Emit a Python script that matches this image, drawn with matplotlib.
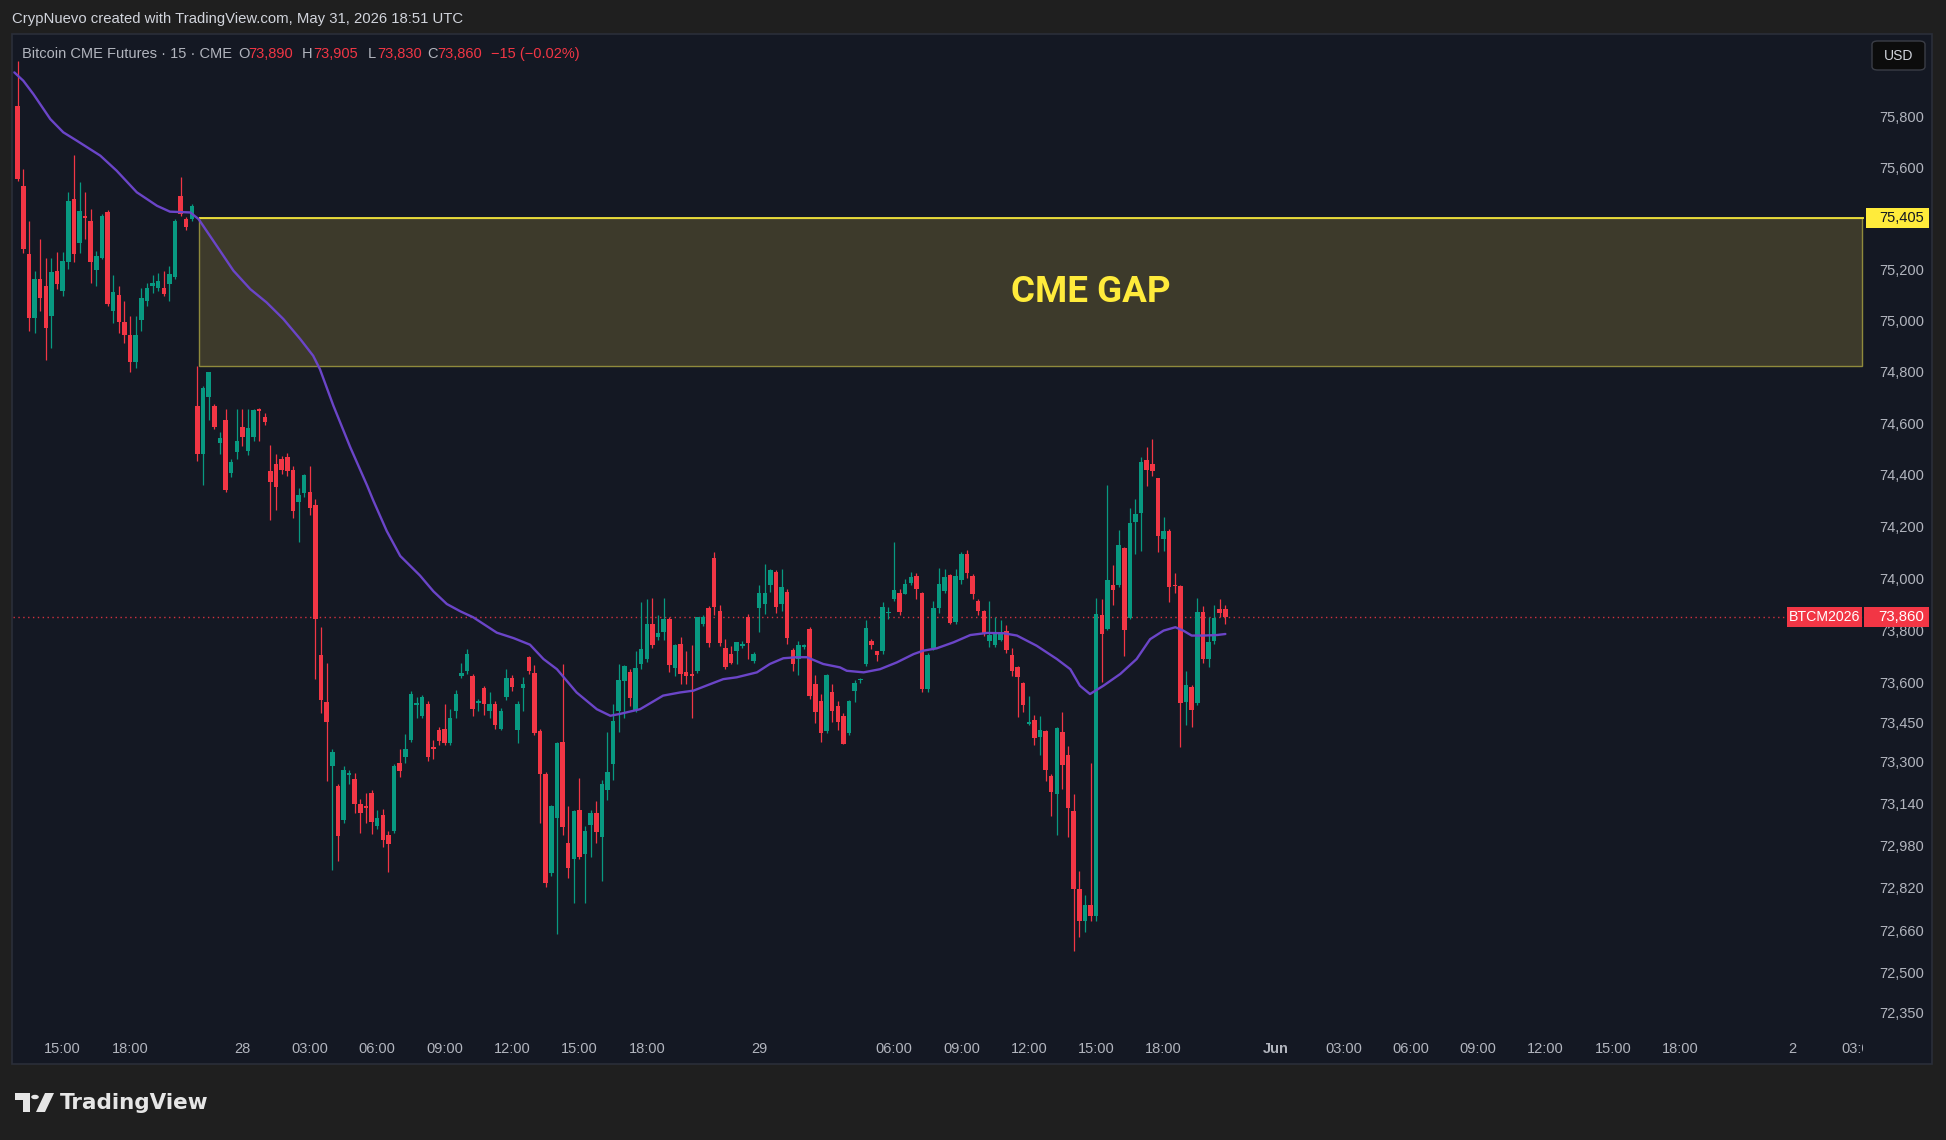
import numpy as np
import pandas as pd
import matplotlib
matplotlib.use("Agg")
import matplotlib.pyplot as plt
import matplotlib.transforms as mtransforms
from matplotlib.patches import Rectangle, Circle, Polygon, FancyBboxPatch

plt.rcParams['font.family'] = ['Liberation Sans', 'DejaVu Sans']

W, H = 1946, 1140

# ----------------------------------------------------------------------
# Bitcoin CME futures, 15 minute bars (27 May 13:00 UTC -> 29 May 20:45 UTC)
# ----------------------------------------------------------------------
opens = [
    75848, 75533, 75264, 75016, 75166, 75140, 75022, 75199, 75120, 75234,
    75481, 75310, 75415, 75396, 75203, 75251, 75431, 75042, 75103, 74999,
    74950, 74845, 75009, 75081, 75140, 75134, 75133, 75146, 75177, 75494,
    75402, 75402,
    74673, 74486, 74706, 74673, 74529, 74618, 74412, 74494, 74590, 74497,
    74553, 74660, 74630, 74420, 74448, 74468, 74475, 74426, 74300, 74335,
    74340, 74289, 73713, 73532, 73287, 73212, 73083, 73253, 73238, 73143,
    73137, 73185, 73062, 73102, 73026, 73040, 73300, 73321, 73386, 73520,
    73478, 73525, 73362, 73425, 73431, 73377, 73497, 73632, 73651, 73632,
    73527, 73587, 73498, 73525, 73431, 73550, 73625, 73424, 73587, 73705,
    73644, 73420, 73256, 72882, 73092, 73380, 72994, 72933, 73120, 72952,
    73064, 73110, 73018, 73197, 73296, 73498, 73613, 73648, 73502, 73678,
    73697, 73832, 73780, 73799, 73851, 73662, 73755, 73646, 73640, 73652,
    73831, 73892,
    74084, 73882, 73741, 73716, 73726, 73748, 73860, 73691, 73891, 73907,
    73983, 74033, 73910, 73956, 73733, 73697, 73743, 73812, 73601, 73538,
    73422, 73570, 73519, 73480, 73414, 73576, 73615, 73678, 73768, 73729,
    73727, 73872, 73926, 73952, 73947, 73990, 74016, 73951, 73582, 73741,
    73891, 73958, 74018, 73840, 74002, 74101, 74016, 73921, 73880, 73768,
    73751, 73770, 73806, 73712, 73666, 73605, 73450, 73463, 73400, 73420,
    73252, 73182, 73417, 73329, 73119, 72822, 72700, 72760, 72720, 73866,
    73812, 73980, 73983, 74124, 73853, 74225, 74258, 74464, 74448, 74392,
    74160, 74191, 73983, 73977, 73532, 73590, 73529, 73876, 73697, 73765,
    73890, 73890,
]
highs = [
    76024, 75598, 75396, 75199, 75323, 75251, 75251, 75274, 75274, 75507,
    75655, 75546, 75509, 75441, 75278, 75420, 75436, 75182, 75140, 75081,
    75022, 75022, 75134, 75153, 75185, 75192, 75199, 75219, 75402, 75566,
    75410, 75460,
    74830, 74750, 74806, 74680, 74572, 74660, 74468, 74660, 74660, 74660,
    74662, 74665, 74645, 74520, 74486, 74480, 74490, 74440, 74355, 74410,
    74440, 74314, 73819, 73682, 73355, 73219, 73290, 73275, 73260, 73164,
    73185, 73198, 73120, 73124, 73040, 73297, 73355, 73410, 73575, 73552,
    73560, 73535, 73389, 73438, 73525, 73506, 73578, 73682, 73737, 73640,
    73545, 73594, 73571, 73535, 73510, 73659, 73635, 73535, 73628, 73709,
    73675, 73430, 73265, 73140, 73380, 73677, 73136, 73120, 73243, 73060,
    73120, 73155, 73236, 73417, 73525, 73677, 73675, 73658, 73729, 73914,
    73929, 73933, 73866, 73933, 73860, 73755, 73781, 73729, 73750, 73860,
    73865, 73900,
    74110, 73905, 73775, 73748, 73764, 73765, 73870, 73725, 73981, 74063,
    74043, 74040, 74043, 73966, 73740, 73765, 73755, 73818, 73634, 73563,
    73640, 73601, 73535, 73490, 73540, 73615, 73625, 73845, 73772, 73729,
    73915, 73895, 74145, 73967, 74005, 74030, 74028, 73955, 73720, 73921,
    74046, 74043, 74025, 74043, 74110, 74114, 74022, 73927, 73885, 73921,
    73857, 73845, 73826, 73741, 73672, 73608, 73557, 73482, 73479, 73427,
    73258, 73437, 73496, 73364, 73180, 72890, 72800, 73300, 73933, 73929,
    74368, 74057, 74192, 74126, 74279, 74313, 74477, 74512, 74544, 74395,
    74245, 74198, 74026, 73980, 73650, 73599, 73933, 73899, 73857, 73904,
    73929, 73905,
]
lows = [
    75550, 75271, 74963, 74957, 75042, 74852, 74898, 75127, 75101, 75205,
    75232, 75271, 75323, 75153, 75140, 75245, 75062, 74996, 74957, 74918,
    74806, 74819, 74963, 75062, 75114, 75121, 75100, 75081, 75166, 75415,
    75360, 75395,
    74459, 74366, 74617, 74583, 74486, 74340, 74398, 74468, 74516, 74482,
    74537, 74537, 74600, 74230, 74269, 74410, 74400, 74238, 74148, 74320,
    74252, 73620, 73490, 73233, 72893, 72927, 73070, 73220, 73110, 73035,
    73070, 73029, 73050, 72981, 72887, 73033, 73246, 73300, 73380, 73471,
    73470, 73307, 73314, 73370, 73370, 73370, 73471, 73625, 73640, 73478,
    73500, 73483, 73471, 73431, 73425, 73540, 73575, 73377, 73498, 73640,
    73406, 73070, 72830, 72870, 72651, 73025, 72863, 72769, 72935, 72769,
    72942, 72994, 72853, 73159, 73236, 73418, 73471, 73519, 73495, 73658,
    73684, 73738, 73770, 73770, 73646, 73631, 73601, 73601, 73471, 73645,
    73825, 73745,
    73864, 73748, 73658, 73678, 73678, 73740, 73697, 73680, 73799, 73870,
    73955, 73872, 73880, 73755, 73652, 73637, 73735, 73545, 73452, 73379,
    73415, 73458, 73425, 73371, 73405, 73532, 73605, 73670, 73735, 73690,
    73715, 73850, 73921, 73864, 73945, 73980, 73926, 73571, 73571, 73730,
    73875, 73950, 73830, 73832, 73985, 74010, 73926, 73864, 73787, 73743,
    73745, 73765, 73722, 73631, 73474, 73494, 73445, 73369, 73331, 73233,
    73097, 73027, 73199, 73017, 72587, 72640, 72660, 72700, 72700, 73608,
    73808, 73903, 73975, 73710, 73850, 74100, 74113, 74364, 74403, 74107,
    74113, 73914, 73952, 73360, 73445, 73438, 73520, 73682, 73665, 73755,
    73860, 73830,
]
closes = [
    75559, 75284, 75016, 75166, 75094, 74976, 75195, 75146, 75238, 75474,
    75267, 75435, 75407, 75232, 75258, 75415, 75068, 75117, 74999, 74950,
    74845, 74950, 75094, 75134, 75153, 75160, 75107, 75188, 75396, 75422,
    75369, 75452,
    74486, 74743, 74803, 74590, 74550, 74347, 74454, 74538, 74553, 74588,
    74657, 74653, 74609, 74378, 74360, 74426, 74420, 74266, 74327, 74404,
    74278, 73852, 73539, 73456, 73341, 73022, 73273, 73260, 73143, 73110,
    73130, 73076, 73089, 73007, 72992, 73290, 73270, 73355, 73565, 73527,
    73552, 73321, 73355, 73384, 73377, 73471, 73565, 73645, 73716, 73505,
    73535, 73525, 73525, 73444, 73498, 73625, 73590, 73525, 73601, 73651,
    73413, 73256, 72843, 73136, 73377, 73056, 72900, 73116, 72941, 73041,
    73110, 73037, 73220, 73264, 73460, 73618, 73670, 73548, 73662, 73736,
    73832, 73749, 73797, 73851, 73674, 73749, 73640, 73633, 73633, 73857,
    73857, 73757,
    73895, 73758, 73665, 73681, 73764, 73755, 73760, 73716, 73949, 73949,
    74037, 73895, 73972, 73776, 73678, 73751, 73749, 73554, 73495, 73414,
    73634, 73500, 73455, 73371, 73538, 73605, 73620, 73815, 73749, 73712,
    73895, 73876, 73961, 73876, 73986, 74012, 73967, 73582, 73712, 73891,
    73986, 74012, 73837, 74016, 74101, 74028, 73947, 73883, 73794, 73790,
    73794, 73794, 73733, 73650, 73627, 73521, 73458, 73397, 73424, 73272,
    73189, 73433, 73294, 73128, 72822, 72700, 72760, 72720, 73870, 73793,
    73999, 73961, 74134, 73808, 74221, 74254, 74454, 74424, 74422, 74168,
    74189, 73975, 73977, 73529, 73598, 73501, 73878, 73697, 73761, 73853,
    73875, 73860,
]

# moving average
ma_x = [
    -0.6, 1.0, 2.8, 5.8, 8.1, 10.5, 14.7, 17.6, 21.2, 24.8, 27.1, 30.7, 32.2,
    35.4, 38.4, 41.4, 44.3, 47.3, 50.3, 52.6, 53.8, 56.2, 59.2, 62.2, 63.3,
    65.7, 68.1, 71.6, 74.0, 76.4, 78.8, 81.1, 85.3, 88.3, 91.2, 93.6, 96.0,
    99.5, 103.1, 105.5, 107.2, 110.8, 114.9, 117.9, 120.3, 123.3, 125.6, 128.0,
    131.6, 133.9, 136.3, 138.7, 140.5, 143.4, 146.4, 147.6, 150.6, 153.5,
    156.5, 159.5, 161.2, 163.6, 166.6, 169.6, 172.5, 175.5, 177.9, 181.4,
    185.0, 187.4, 189.1, 190.9, 193.3, 196.3, 199.2, 201.6, 204.0, 206.1,
    207.5, 209.0, 211.1, 213.5, 215.0,
]
ma_val = [
    75979, 75946, 75893, 75795, 75743, 75710, 75651, 75592, 75507, 75454,
    75431, 75428, 75402, 75298, 75200, 75128, 75076, 75011, 74933, 74868,
    74816, 74674, 74513, 74365, 74307, 74189, 74093, 74018, 73957, 73908,
    73880, 73857, 73798, 73777, 73752, 73697, 73658, 73569, 73505, 73480,
    73487, 73505, 73557, 73569, 73576, 73601, 73620, 73627, 73646, 73678,
    73700, 73704, 73704, 73678, 73665, 73652, 73646, 73658, 73684, 73716,
    73729, 73738, 73761, 73789, 73797, 73796, 73787, 73748, 73697, 73658,
    73595, 73563, 73595, 73640, 73697, 73773, 73806, 73819, 73806, 73787,
    73787, 73789, 73793,
]

gap_top = 75405
gap_bottom = 74830
gap_start = "2026-05-27 22:00"

price_ticks = [75800, 75600, 75200, 75000, 74800, 74600, 74400, 74200, 74000,
               73800, 73600, 73450, 73300, 73140, 72980, 72820, 72660, 72500, 72350]

time_ticks = [
    "2026-05-27 15:00", "2026-05-27 18:00", "2026-05-28 00:00", "2026-05-28 03:00",
    "2026-05-28 06:00", "2026-05-28 09:00", "2026-05-28 12:00", "2026-05-28 15:00",
    "2026-05-28 18:00", "2026-05-29 00:00", "2026-05-29 06:00", "2026-05-29 09:00",
    "2026-05-29 12:00", "2026-05-29 15:00", "2026-05-29 18:00", "2026-06-01 00:00",
    "2026-06-01 03:00", "2026-06-01 06:00", "2026-06-01 09:00", "2026-06-01 12:00",
    "2026-06-01 15:00", "2026-06-01 18:00", "2026-06-02 00:00", "2026-06-02 03:00",
]

# CME session calendar: daily break 21:00-22:00 UTC, weekend Fri 21:00 -> Sun 22:00
times = pd.date_range("2026-05-27 13:00", "2026-06-02 06:00", freq="15min")
dow = times.dayofweek
closed = (times.hour == 21) | ((dow == 4) & (times.hour >= 21)) | (dow == 5) | ((dow == 6) & (times.hour < 22))
times = times[~closed]
bar_of = {t: i for i, t in enumerate(times)}

# ----------------------------------------------------------------------
outer_bg = "#1f1f1f"
pane_bg = "#141823"
up_col = "#089981"
dn_col = "#f23645"
axis_txt = "#b2b5be"


def fx(x):
    return x / W


def fy(y):
    return 1 - y / H


fig = plt.figure(figsize=(W / 100, H / 100), dpi=100, facecolor=outer_bg)
fig.add_artist(Rectangle((fx(12), fy(1064)), (1932 - 12) / W, (1064 - 34) / H,
                         transform=fig.transFigure, facecolor=pane_bg,
                         edgecolor="#2a2e39", lw=1.2, zorder=-5))

ax_left, ax_right, ax_top, ax_bot = 12.5, 1864, 36.5, 1036.5
ax = fig.add_axes([fx(ax_left), fy(ax_bot), (ax_right - ax_left) / W, (ax_bot - ax_top) / H])
ax.set_facecolor(pane_bg)
for s in ax.spines.values():
    s.set_visible(False)
ax.set_yscale("log")
ax.set_ylim(72265, 76121)
ax.set_xlim(-0.93, 328.7)
ax.set_xticks([])
ax.set_yticks([])
ax.set_yticks([], minor=True)

# candles
o = np.array(opens, float)
h = np.array(highs, float)
l = np.array(lows, float)
c = np.array(closes, float)
x = np.arange(len(o))
cols = np.where(c >= o, up_col, dn_col)
ax.vlines(x, l, h, colors=cols, linewidth=0.9, zorder=3)
body_lo = np.minimum(o, c)
body_h = np.maximum(np.abs(c - o), 3.5)
ax.bar(x, body_h, bottom=body_lo, width=0.8, color=cols, linewidth=0, zorder=4)

# moving average
ax.plot(ma_x, ma_val, color="#6b45c8", lw=1.7, zorder=5, solid_capstyle="round")

# CME gap box
g0 = bar_of[pd.Timestamp(gap_start)] + 0.2
ax.add_patch(Rectangle((g0, gap_bottom), 328.4 - g0, gap_top - gap_bottom,
                       facecolor="#3d3a2b", edgecolor="#8f8a3c", lw=1.0, zorder=2))
ax.hlines(gap_top, g0, 328.7, color="#f2e33a", lw=1.3, zorder=2.5)
ax.text(191, np.sqrt(gap_top * gap_bottom), "CME GAP", color="#ffeb3b",
        fontsize=26.5, fontweight="bold", family=["Roboto", "DejaVu Sans"],
        ha="center", va="center", zorder=6)

# last price dotted line
ax.axhline(c[-1], color=dn_col, lw=1.0, ls=(0, (1, 2.5)), alpha=0.85, zorder=1)

# price axis labels
ytrans = mtransforms.blended_transform_factory(ax.transAxes, ax.transData)
xlab = (1924 - ax_left) / (ax_right - ax_left)
for v in price_ticks:
    ax.text(xlab, v, f"{v:,}", transform=ytrans, ha="right", va="center",
            color=axis_txt, fontsize=10.5, clip_on=False)

# time axis labels
xtrans = mtransforms.blended_transform_factory(ax.transData, ax.transAxes)
ylab = (ax_bot - 1049) / (ax_bot - ax_top)
clip_rect = Rectangle((fx(12), 0), (1863 - 12) / W, 1, transform=fig.transFigure)
for s in time_ticks:
    t = pd.Timestamp(s)
    if t.hour == 0 and t.minute == 0:
        lab = t.strftime("%b") if t.day == 1 else str(t.day)
    else:
        lab = t.strftime("%H:%M")
    txt = ax.text(bar_of[t], ylab, lab, transform=xtrans, ha="center", va="center",
                  color=axis_txt, fontsize=10.5,
                  fontweight="bold" if lab == "Jun" else "normal")
    txt.set_clip_path(clip_rect)
    txt.set_clip_on(True)


def ypix(v):
    return ax.transData.transform((0, v))[1]


# gap level label
yy = ypix(gap_top)
fig.add_artist(Rectangle((fx(1866), (yy - 10) / H), 63 / W, 20 / H,
                         transform=fig.transFigure, facecolor="#ffeb3b", lw=0, zorder=3))
fig.text(fx(1924), yy / H, f"{gap_top:,}", ha="right", va="center",
         color="#131722", fontsize=10.5, zorder=4)

# last price labels
yy = ypix(c[-1])
fig.add_artist(Rectangle((fx(1787), (yy - 10) / H), 75 / W, 20 / H,
                         transform=fig.transFigure, facecolor=dn_col, lw=0, zorder=3))
fig.add_artist(Rectangle((fx(1864), (yy - 10) / H), 65 / W, 20 / H,
                         transform=fig.transFigure, facecolor=dn_col, lw=0, zorder=3))
fig.text(fx(1824.5), yy / H, "BTCM2026", ha="center", va="center",
         color="white", fontsize=10.2, zorder=4)
fig.text(fx(1924), yy / H, f"{c[-1]:,.0f}", ha="right", va="center",
         color="white", fontsize=10.8, zorder=4)

# USD button
fig.add_artist(FancyBboxPatch((fx(1872), fy(70)), 53 / W, 29 / H,
                              boxstyle="round,pad=0,rounding_size=0.003",
                              transform=fig.transFigure, facecolor="#0c0c0c",
                              edgecolor="#3a3d46", lw=1.0, zorder=3))
fig.text(fx(1898.5), fy(55.5), "USD", ha="center", va="center",
         color="#d1d4dc", fontsize=10, zorder=4)

# header
fig.text(fx(12), fy(19.5), "CrypNuevo created with TradingView.com, May 31, 2026 18:51 UTC",
         color="#d1d4dc", fontsize=10.7, va="center")

# legend line
leg_y = fy(54)
fig.text(fx(22), leg_y, "Bitcoin CME Futures · 15 · CME", color=axis_txt,
         fontsize=10.5, va="center")
chg = c[-1] - c[-2]
pct = chg / c[-2] * 100
pieces = [("O", 238, axis_txt), (f"{o[-1]:,.0f}", 248, dn_col),
          ("H", 302, axis_txt), (f"{h[-1]:,.0f}", 313, dn_col),
          ("L", 368, axis_txt), (f"{l[-1]:,.0f}", 377, dn_col),
          ("C", 427, axis_txt), (f"{c[-1]:,.0f}", 437, dn_col),
          (f"\u2212{abs(chg):.0f} (\u2212{abs(pct):.2f}%)", 491, dn_col)]
for s, px, col in pieces:
    fig.text(fx(px), leg_y, s, color=col, fontsize=10.5, va="center")

# TradingView logo
logo_col = "#e6e6e6"
fig.add_artist(Polygon([(fx(15), fy(1093)), (fx(30), fy(1093)), (fx(30), fy(1112)),
                        (fx(23), fy(1112)), (fx(23), fy(1100)), (fx(15), fy(1100))],
                       closed=True, transform=fig.transFigure, facecolor=logo_col, lw=0))
fig.add_artist(Circle((fx(35), fy(1097)), 3.8 / W, transform=fig.transFigure,
                      facecolor=logo_col, lw=0))
fig.add_artist(Polygon([(fx(36), fy(1112)), (fx(45), fy(1093)), (fx(54), fy(1093)),
                        (fx(45), fy(1112))], closed=True, transform=fig.transFigure,
                       facecolor=logo_col, lw=0))
fig.text(fx(60), fy(1103), "TradingView", color=logo_col, fontsize=15.5,
         fontweight="bold", family="DejaVu Sans", va="center")

fig.savefig("out.png", dpi=100, facecolor=outer_bg)
